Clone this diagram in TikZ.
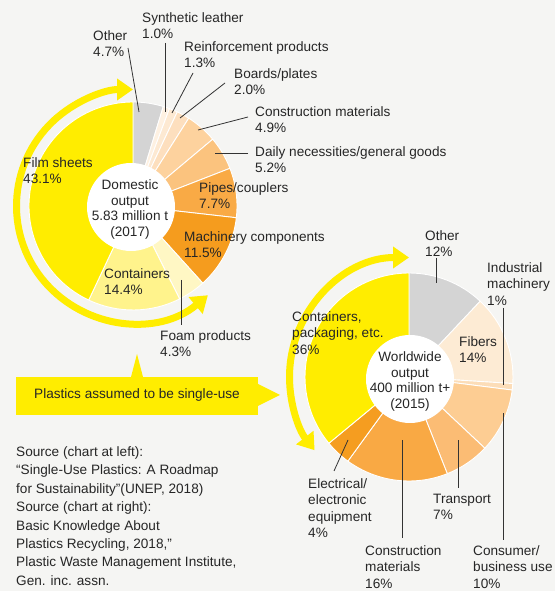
\documentclass[tikz,border=0pt]{standalone}
\usepackage{fontspec}
\setmainfont{Liberation Sans}
\usetikzlibrary{arrows.meta,calc}
\definecolor{bg}{HTML}{F5F5F3}
\definecolor{txt}{HTML}{262626}
\definecolor{lead}{HTML}{333333}
\definecolor{pgray}{HTML}{D4D4D4}
\definecolor{psynth}{HTML}{FEF1E2}
\definecolor{preinf}{HTML}{FDE9D2}
\definecolor{pboard}{HTML}{FDDFBE}
\definecolor{pconstr}{HTML}{FDD29E}
\definecolor{pdaily}{HTML}{FBC37E}
\definecolor{ppipe}{HTML}{F9AA45}
\definecolor{pmach}{HTML}{F59C1E}
\definecolor{pfoam}{HTML}{FFF7C4}
\definecolor{pcont}{HTML}{FFF38C}
\definecolor{yel}{HTML}{FFED00}
\definecolor{pfiber}{HTML}{FDEBD4}
\definecolor{pindus}{HTML}{FCDDB8}
\definecolor{pcons}{HTML}{FDCD93}
\definecolor{ptrans}{HTML}{FBBC74}
\definecolor{prconstr}{HTML}{F9A944}
\definecolor{pelec}{HTML}{F59D20}
\newcommand{\pieseg}[5]{%
  \fill[#5, draw=white, line width=0.9pt] (#1) -- ++(#3:#2) arc[start angle=#3, end angle=#4, radius=#2] -- cycle;}
\newcommand{\lblfont}{\fontsize{13.6pt}{16.3pt}\selectfont}
\tikzset{
  lbl/.style={anchor=base west, align=left, inner sep=0pt, text=txt, font=\lblfont},
  ctr/.style={anchor=base, align=center, inner sep=0pt, text=txt, font=\fontsize{13.6pt}{15.7pt}\selectfont},
  leader/.style={draw=lead, line width=0.8pt},
  yarrow/.style={draw=yel, line width=7pt, {Triangle[width=21pt,length=16pt]}-{Triangle[width=21pt,length=16pt]}},
}
\begin{document}
\begin{tikzpicture}[x=1pt,y=1pt]
\fill[bg] (0,0) rectangle (555,591);
\useasboundingbox (0,0) rectangle (555,591);

% ---------- left chart ----------
\coordinate (C1) at (133,385);
\pieseg{C1}{104}{90}{73.08}{pgray}
\pieseg{C1}{104}{73.08}{69.48}{psynth}
\pieseg{C1}{104}{69.48}{64.8}{preinf}
\pieseg{C1}{104}{64.8}{57.6}{pboard}
\pieseg{C1}{104}{57.6}{39.96}{pconstr}
\pieseg{C1}{104}{39.96}{21.24}{pdaily}
\pieseg{C1}{104}{21.24}{-6.48}{ppipe}
\pieseg{C1}{104}{-6.48}{-47.88}{pmach}
\pieseg{C1}{104}{-47.88}{-63.36}{pfoam}
\pieseg{C1}{104}{-63.36}{-115.2}{pcont}
\pieseg{C1}{104}{-115.2}{-270}{yel}
\fill[white] (131,384) circle[radius=44];
\draw[yarrow] ($(C1)+(-50:116.5)$) arc[start angle=-50, end angle=-270, radius=116.5];

\node[ctr] (dom) at (130,354.4) {Domestic\\output\\5.83 million t\\(2017)};
\node[lbl] (lother) at (93,534.2) {Other\\4.7\%};
\node[lbl] (lsynth) at (142,552.2) {Synthetic leather\\1.0\%};
\node[lbl] (lreinf) at (184,523.2) {Reinforcement products\\1.3\%};
\node[lbl] (lboard) at (234,496.2) {Boards/plates\\2.0\%};
\node[lbl] (lconstr) at (255,458.2) {Construction materials\\4.9\%};
\node[lbl] (ldaily) at (255,418.2) {Daily necessities/general goods\\5.2\%};
\node[lbl] (lpipe) at (199,382.2) {Pipes/couplers\\7.7\%};
\node[lbl] (lmach) at (184,333.2) {Machinery components\\11.5\%};
\node[lbl] (lfoam) at (160,234.2) {Foam products\\4.3\%};
\node[lbl] (lcont) at (104,296.2) {Containers\\14.4\%};
\node[lbl] (lfilm) at (23,407.2) {Film sheets\\43.1\%};

\coordinate (a1) at (128,543); \coordinate (b1) at (139,479);
\coordinate (a2) at (165,548); \coordinate (b2) at (165,479);
\coordinate (a3) at (193,518); \coordinate (b3) at (172,478);
\coordinate (a4) at (225,508); \coordinate (b4) at (180,473);
\coordinate (a5) at (248,474); \coordinate (b5) at (198,461);
\coordinate (a6) at (248,438); \coordinate (b6) at (215,438);
\coordinate (a7) at (181,311); \coordinate (b7) at (181,266);
\foreach \i in {1,...,7} \draw[leader] (a\i) -- (b\i);

% ---------- right chart ----------
\coordinate (C2) at (409,214);
\pieseg{C2}{104}{90}{46.8}{pgray}
\pieseg{C2}{104}{46.8}{-3.6}{pfiber}
\pieseg{C2}{104}{-3.6}{-7.2}{pindus}
\pieseg{C2}{104}{-7.2}{-43.2}{pcons}
\pieseg{C2}{104}{-43.2}{-68.4}{ptrans}
\pieseg{C2}{104}{-68.4}{-126}{prconstr}
\pieseg{C2}{104}{-126}{-140.4}{pelec}
\pieseg{C2}{104}{-140.4}{-270}{yel}
\fill[white] (410,212) circle[radius=44];
\draw[yarrow] ($(C2)+(90:119.5)$) arc[start angle=90, end angle=217.8, radius=119.5];

\node[ctr] (wor) at (410,182.4) {Worldwide\\output\\400 million t+\\(2015)};
\node[lbl] (rother) at (425,334.2) {Other\\12\%};
\node[lbl] (rindus) at (487,285.9) {Industrial\\machinery\\1\%};
\node[lbl] (rfiber) at (459,228.2) {Fibers\\14\%};
\node[lbl] (rcont) at (292,236.9) {Containers,\\packaging, etc.\\36\%};
\node[lbl] (relec) at (308,53.6) {Electrical/\\electronic\\equipment\\4\%};
\node[lbl] (rconstr) at (365,2.9) {Construction\\materials\\16\%};
\node[lbl] (rtrans) at (433,71.2) {Transport\\7\%};
\node[lbl] (rcons) at (473,2.9) {Consumer/\\business use\\10\%};

\coordinate (c1) at (436,333); \coordinate (d1) at (436,308);
\coordinate (c2) at (503,283); \coordinate (d2) at (503,206);
\coordinate (c3) at (334,120); \coordinate (d3) at (348,151);
\coordinate (c4) at (402,53);  \coordinate (d4) at (402,151);
\coordinate (c5) at (458,103); \coordinate (d5) at (458,151);
\coordinate (c6) at (503,51);  \coordinate (d6) at (503,178);
\foreach \i in {1,...,6} \draw[leader] (c\i) -- (d\i);

% ---------- callout ----------
\fill[yel] (16,176) rectangle (258,214);
\fill[yel] (131,214) -- (137,237) -- (143,214) -- cycle;
\fill[yel] (258,207) -- (280,196) -- (258,185) -- cycle;
\node[anchor=center, inner sep=0pt, text=txt, font=\lblfont] (call) at (137,196) {Plastics assumed to be single-use};

% ---------- source ----------
\node[anchor=base west, align=left, inner sep=0pt, text=txt, font=\fontsize{13.6pt}{18.4pt}\selectfont] (src) at (16,5.7)
{Source (chart at left):\\
``Single-Use Plastics: A Roadmap\\
for Sustainability''(UNEP, 2018)\\
Source (chart at right):\\
Basic Knowledge About\\
Plastics Recycling, 2018,''\\
Plastic Waste Management Institute,\\
Gen. inc. assn.};
\end{tikzpicture}
\end{document}
